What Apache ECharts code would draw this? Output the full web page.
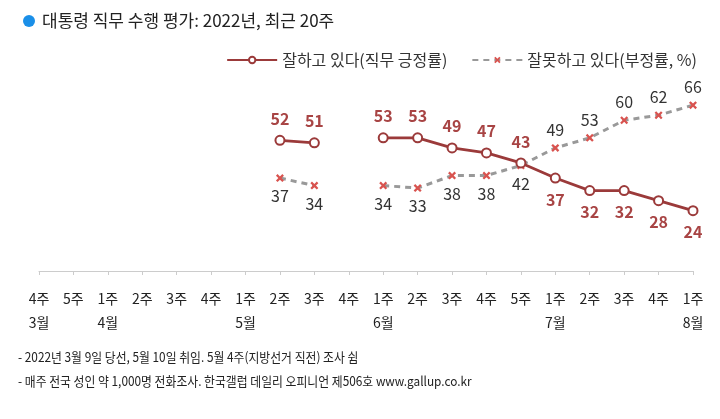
<!DOCTYPE html>
<html>
<head>
<meta charset="utf-8">
<script src="https://cdn.jsdelivr.net/npm/echarts@6/dist/echarts.min.js"></script>
<style>
  html, body { margin: 0; padding: 0; background: #fff; }
  #chart { width: 720px; height: 419px; }
</style>
</head>
<body>
<div id="chart"></div>
<script>
  var weeks = ['4주', '5주', '1주', '2주', '3주', '4주', '1주', '2주', '3주', '4주',
               '1주', '2주', '3주', '4주', '5주', '1주', '2주', '3주', '4주', '1주'];
  var months = ['3월', '', '4월', '', '', '', '5월', '', '', '',
                '6월', '', '', '', '', '7월', '', '', '', '8월'];
  // 긍정률 / 부정률 (5월 4주 조사 쉼)
  var approve = [null, null, null, null, null, null, null, 52, 51, null,
                 53, 53, 49, 47, 43, 37, 32, 32, 28, 24];
  var disapprove = [null, null, null, null, null, null, null, 37, 34, null,
                    34, 33, 38, 38, 42, 49, 53, 60, 62, 66];
  // 교차 이후(7월 1주~)는 라벨 위치 반대
  var crossIdx = 15;

  var font = '"Noto Sans CJK KR", "Noto Sans", sans-serif';
  var xMark = 'path://M2,0L5,3L8,0L10,2L7,5L10,8L8,10L5,7L2,10L0,8L3,5L0,2Z';

  var myChart = echarts.init(document.getElementById('chart'));
  var option = {
    textStyle: { fontFamily: font },
    animation: false,
    legend: {
      top: 47,
      right: 18,
      itemWidth: 50,
      itemHeight: 8,
      itemGap: 24,
      textStyle: { fontSize: 16, color: '#333', fontFamily: font },
      data: ['잘하고 있다(직무 긍정률)', '잘못하고 있다(부정률, %)']
    },
    grid: { left: 39, right: 27, top: 70, bottom: 148 },
    xAxis: {
      type: 'category',
      boundaryGap: false,
      data: weeks,
      axisLine: { lineStyle: { color: '#cccccc', width: 1 } },
      axisTick: { show: true, length: 4, lineStyle: { color: '#cccccc' } },
      axisLabel: {
        interval: 0,
        margin: 16,
        color: '#222',
        fontSize: 14,
        lineHeight: 24,
        fontFamily: font,
        formatter: function (v, i) { return v + '\n' + (months[i] || ' '); }
      }
    },
    yAxis: {
      type: 'value',
      min: 0,
      max: 80,
      show: false
    },
    series: [
      {
        name: '잘하고 있다(직무 긍정률)',
        type: 'line',
        data: approve.map(function (v, i) {
          return { value: v, label: { position: i >= crossIdx ? 'bottom' : 'top' } };
        }),
        symbol: 'emptyCircle',
        symbolSize: 9,
        lineStyle: { color: '#9b3a3a', width: 2.8 },
        itemStyle: { color: '#9b3a3a', borderWidth: 1.5 },
        label: {
          show: true,
          distance: 8,
          color: '#a84444',
          fontSize: 16,
          fontWeight: 600,
          fontFamily: font
        },
        z: 3
      },
      {
        name: '잘못하고 있다(부정률, %)',
        type: 'line',
        data: disapprove.map(function (v, i) {
          return { value: v, label: { position: i >= crossIdx ? 'top' : 'bottom' } };
        }),
        symbol: xMark,
        symbolSize: 8,
        lineStyle: { color: '#999999', width: 3, type: [6, 5] },
        itemStyle: { color: '#d9534f' },
        label: {
          show: true,
          distance: 6,
          color: '#333',
          fontSize: 16,
          fontFamily: font
        },
        z: 2
      }
    ],
    graphic: [
      { type: 'circle', left: 23, top: 15, shape: { r: 6 }, style: { fill: '#1a8fe8' } },
      {
        type: 'text', left: 42, top: 12,
        style: { text: '대통령 직무 수행 평가: 2022년, 최근 20주', fill: '#222', font: '17px ' + font }
      },
      {
        type: 'text', left: 18, top: 351, scaleX: 0.91,
        style: { text: '- 2022년 3월 9일 당선, 5월 10일 취임. 5월 4주(지방선거 직전) 조사 쉼', fill: '#222', font: '13px ' + font }
      },
      {
        type: 'text', left: 18, top: 375, scaleX: 0.91,
        style: { text: '- 매주 전국 성인 약 1,000명 전화조사. 한국갤럽 데일리 오피니언 제506호 www.gallup.co.kr', fill: '#222', font: '13px ' + font }
      }
    ]
  };
  myChart.setOption(option);
</script>
</body>
</html>
